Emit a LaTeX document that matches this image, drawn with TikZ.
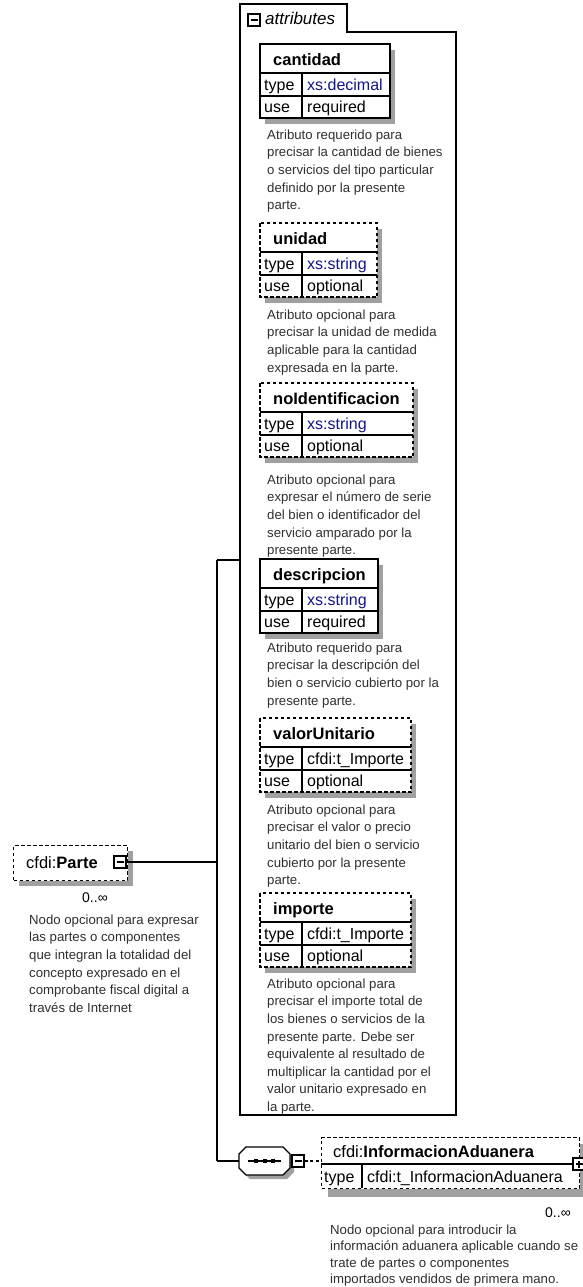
\documentclass[tikz,border=0pt]{standalone}
\usepackage{fontspec}
\setmainfont{Liberation Sans}
\usetikzlibrary{calc}
\definecolor{shadowc}{HTML}{A0A0A0}
\definecolor{typeblue}{HTML}{14148C}
\definecolor{txt}{HTML}{303030}
\tikzset{
 dashbox/.style={line width=1.3pt, dash pattern=on 3.5pt off 2.5pt},
 solidbox/.style={line width=1.3pt},
 conn/.style={line width=1.3pt},
 ttl/.style={anchor=base west, inner sep=0pt, font=\fontsize{16.5}{20}\selectfont\bfseries},
 lbl/.style={anchor=base west, inner sep=0pt, font=\fontsize{16}{19}\selectfont},
 val/.style={anchor=base west, inner sep=0pt, font=\fontsize{16}{19}\selectfont},
 occ/.style={anchor=base west, inner sep=0pt, font=\fontsize{14}{16}\selectfont},
 desc/.style={anchor=north west, align=left, inner sep=0pt, text=txt, font=\fontsize{13.2}{17.6}\selectfont},
 btn/.style={draw, fill=white, line width=1.1pt, minimum size=12pt, inner sep=0pt,
   path picture={\draw[line width=1.1pt] ([xshift=2.5pt]path picture bounding box.west) -- ([xshift=-2.5pt]path picture bounding box.east);}},
 plusbtn/.style={draw, fill=white, line width=1.1pt, minimum size=12pt, inner sep=0pt,
   path picture={\draw[line width=1.1pt] ([xshift=2.5pt]path picture bounding box.west) -- ([xshift=-2.5pt]path picture bounding box.east);
   \draw[line width=1.1pt] ([yshift=-2.5pt]path picture bounding box.north) -- ([yshift=2.5pt]path picture bounding box.south);}},
}
\newcommand\AttrBox[7]{%
 \fill[shadowc] (265,#2+6) rectangle (#3+5,#2+80);
 \fill[white] (260,#2) rectangle (#3,#2+74);
 \draw[conn] (260,#2+29) -- (#3,#2+29) (260,#2+52) -- (#3,#2+52) (302,#2+29) -- (302,#2+74);
 \draw[#7] (260,#2) rectangle (#3,#2+74);
 \node[ttl] (#1) at (273,#2+21.5) {#4};
 \node[lbl] (#1-tl) at (264,#2+46.5) {type};
 \node[val] (#1-tv) at (307,#2+46.5) {#5};
 \node[lbl] (#1-ul) at (264,#2+68.5) {use};
 \node[val] (#1-uv) at (307,#2+68.5) {#6};
}
\begin{document}
\begin{tikzpicture}[x=1pt,y=-1pt]
\useasboundingbox (0,0) rectangle (583,1287);
\fill[white] (0,0) rectangle (583,1287);

% attributes container
\draw[conn, fill=white] (240,1115) -- (240,4) -- (347,4) -- (347,32) -- (456,32) -- (456,1115) -- cycle;
\node[btn] (attrbtn) at (254,20) {};
\node[anchor=base west, inner sep=0pt, font=\fontsize{17}{20}\selectfont\itshape] (attrlbl) at (265,25) {attributes};
\coordinate (attrs) at (240,560);

\AttrBox{cantidad}{44}{390}{cantidad}{\textcolor{typeblue}{xs:decimal}}{required}{solidbox}
\node[desc] (d1) at (267,126.7) {\strut Atributo requerido para\\precisar la cantidad de bienes\\o servicios del tipo particular\\definido por la presente\\parte.};

\AttrBox{unidad}{223}{377}{unidad}{\textcolor{typeblue}{xs:string}}{optional}{dashbox}
\node[desc] (d2) at (267,306.7) {\strut Atributo opcional para\\precisar la unidad de medida\\aplicable para la cantidad\\expresada en la parte.};

\AttrBox{noid}{383}{413}{noIdentificacion}{\textcolor{typeblue}{xs:string}}{optional}{dashbox}
\node[desc] (d3) at (267,471.7) {\strut Atributo opcional para\\expresar el número de serie\\del bien o identificador del\\servicio amparado por la\\presente parte.};

\AttrBox{descripcion}{559}{378}{descripcion}{\textcolor{typeblue}{xs:string}}{required}{solidbox}
\node[desc] (d4) at (267,639.7) {\strut Atributo requerido para\\precisar la descripción del\\bien o servicio cubierto por la\\presente parte.};

\AttrBox{valor}{718}{411}{valorUnitario}{cfdi:t\_Importe}{optional}{dashbox}
\node[desc] (d5) at (267,801.7) {\strut Atributo opcional para\\precisar el valor o precio\\unitario del bien o servicio\\cubierto por la presente\\parte.};

\AttrBox{importe}{893}{411}{importe}{cfdi:t\_Importe}{optional}{dashbox}
\node[desc] (d6) at (267,975.7) {\strut Atributo opcional para\\precisar el importe total de\\los bienes o servicios de la\\presente parte. Debe ser\\equivalente al resultado de\\multiplicar la cantidad por el\\valor unitario expresado en\\la parte.};

% cfdi:Parte
\fill[shadowc] (19,851) rectangle (133,886);
\node[draw, dashbox, fill=white, anchor=north west, minimum width=114pt, minimum height=35pt, inner sep=0pt] (parte) at (13,845) {};
\node[ttl] (partet) at (26,868) {\mdseries cfdi:\bfseries Parte};
\node[btn] (partebtn) at (120,862) {};
\node[occ] (parteocc) at (82,902) {0..∞};
\node[desc] (parted) at (29,911.7) {\strut Nodo opcional para expresar\\las partes o componentes\\que integran la totalidad del\\concepto expresado en el\\comprobante fiscal digital a\\través de Internet};

% sequence
\node[minimum width=51pt, minimum height=28pt, inner sep=0pt] (seq) at (264.5,1161) {};
\fill[shadowc] (250,1151) -- (287,1151) -- (294,1158) -- (294,1172) -- (287,1179) -- (250,1179) -- (243,1172) -- (243,1158) -- cycle;
\draw[conn, fill=white] (246,1147) -- (283,1147) -- (290,1154) -- (290,1168) -- (283,1175) -- (246,1175) -- (239,1168) -- (239,1154) -- cycle;
\draw[line width=1.5pt] (248,1161) -- (281,1161);
\fill (254,1159) rectangle (258,1163);
\fill (262.5,1159) rectangle (266.5,1163);
\fill (271,1159) rectangle (275,1163);
\node[btn] (seqbtn) at (298,1161) {};

% cfdi:InformacionAduanera
\fill[shadowc] (328,1144) rectangle (590,1197);
\node[draw, dashbox, fill=white, anchor=north west, minimum width=258pt, minimum height=51pt, inner sep=0pt] (info) at (321,1137) {};
\draw[conn] (321,1164) -- (579,1164) (362,1164) -- (362,1188);
\node[ttl] (infot) at (333,1157) {\mdseries cfdi:\bfseries InformacionAduanera};
\node[lbl] (infotl) at (324,1182.5) {type};
\node[val] (infotv) at (367,1182.5) {cfdi:t\_InformacionAduanera};
\node[plusbtn] (infobtn) at (579,1164) {};
\node[occ] (infoocc) at (545,1217) {0..∞};
\node[desc, font=\fontsize{13.2}{16.5}\selectfont] (infod) at (330,1222.5) {\strut Nodo opcional para introducir la\\información aduanera aplicable cuando se\\trate de partes o componentes\\importados vendidos de primera mano.};

% connectors
\coordinate (j1) at (217,862);
\coordinate (jtop) at (217,560);
\coordinate (jbot) at (217,1161);
\draw[conn] (partebtn.east) -- (j1);
\draw[conn] (jtop) -- (jbot);
\draw[conn] (jtop) -- (attrs);
\draw[conn] (jbot) -- (seq.west);
\draw[line width=1.1pt, dash pattern=on 3pt off 2.5pt] (seqbtn.east) -- (seqbtn.east -| info.west);
\end{tikzpicture}
\end{document}
